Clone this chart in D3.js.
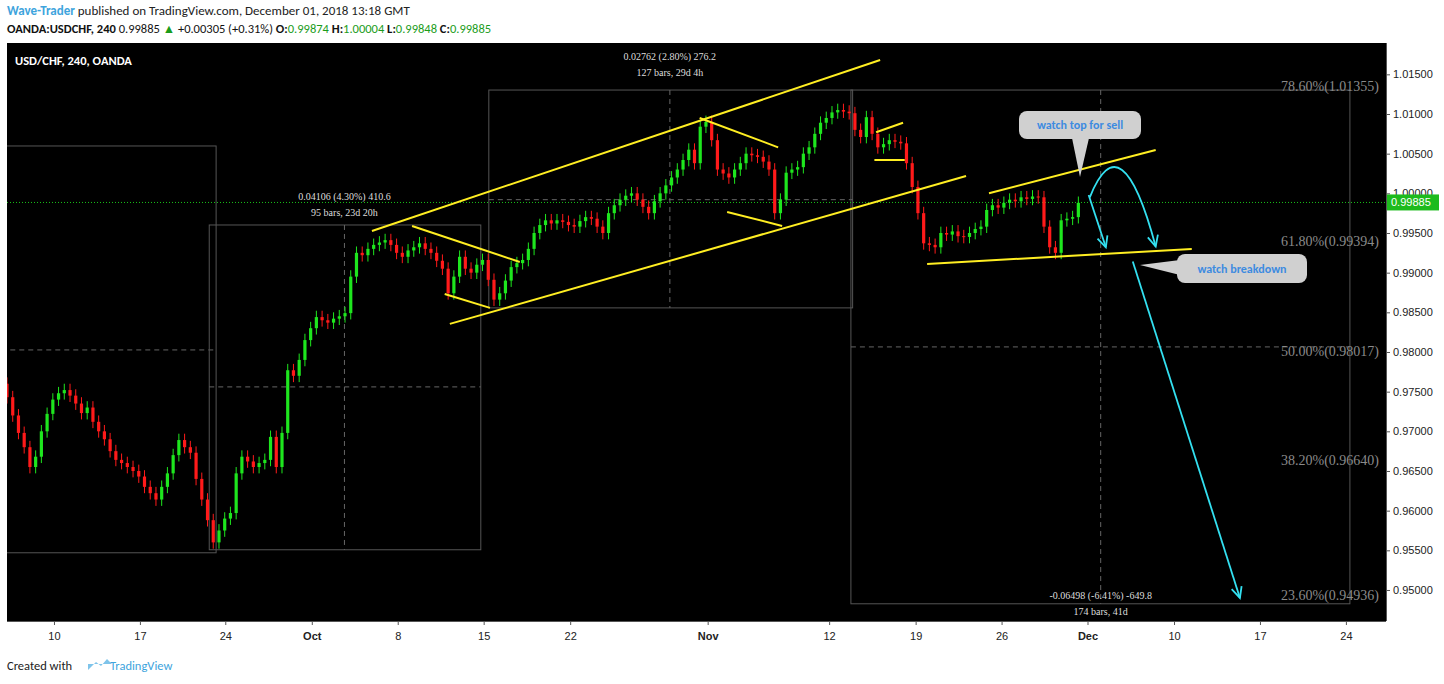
<!DOCTYPE html><html><head><meta charset="utf-8">
<script src="https://cdn.jsdelivr.net/npm/d3@7"></script>
<style>body{margin:0;background:#fff;font-family:"Open Sans",Arial,sans-serif}</style></head><body>
<svg id="c" width="1444" height="684"></svg>
<script>
const closes=[.9743,.9720,.9698,.9680,.9655,.9668,.9700,.9722,.9740,.9748,
.9752,.9745,.9735,.9723,.9730,.9712,.9700,.9690,.9675,.9664,
.9660,.9655,.9650,.9643,.9630,.9622,.9614,.9630,.9647,.9670,
.9689,.9680,.9673,.9640,.9614,.9588,.9560,.9575,.9590,.9597,
.9647,.9668,.9662,.9655,.9660,.9664,.9693,.9655,.9698,.9777,
.9770,.9790,.9815,.9830,.9844,.9840,.9837,.9842,.9845,.9849,
.9895,.9925,.9922,.9930,.9935,.9938,.9941,.9935,.9925,.9920,
.9928,.9932,.9937,.9930,.9925,.9915,.9905,.9874,.9895,.9920,
.9905,.9900,.9910,.9916,.9891,.9866,.9874,.9890,.9907,.9912,
.9916,.9930,.9950,.9960,.9966,.9962,.9966,.9964,.9960,.9958,
.9965,.9970,.9968,.9958,.9950,.9975,.9985,.9992,.9997,1.0000,
.9992,.9983,.9975,.9990,1.0000,1.0010,1.0020,1.0030,1.0042,1.0055,
1.0038,1.0084,1.0090,1.0067,1.0030,1.0025,1.0020,1.0030,1.0038,1.0050,
1.0048,1.0046,1.0040,1.0030,.9975,.9992,1.0026,1.0030,1.0033,1.0050,
1.0058,1.0075,1.0089,1.0095,1.0102,1.0105,1.0103,1.0101,1.0080,1.0071,
1.0096,1.0075,1.0058,1.0062,1.0067,1.0065,1.0063,1.0038,1.0008,.9975,
.9937,.9935,.9932,.9950,.9948,.9952,.9946,.9945,.9950,.9955,
.9958,.9979,.9985,.9982,.9988,.9992,.9990,.9995,.9993,.9996,
.9995,.9958,.9932,.9925,.9966,.9968,.9970,.9988];
const firstOpen=.9760, wick=.0008;
const dateTicks=[8.2,23.2,38.1,53.2,68.2,83.2,98.3,122.3,143.5,158.6,173.6,188.6,203.7,218.7,233.7];
const dateLabels=["10","17","24","Oct","8","15","22","Nov","12","19","26","Dec","10","17","24"];
const priceTicks=[1.015,1.01,1.005,1.0,.995,.99,.985,.98,.975,.97,.965,.96,.955,.95];
const trendLines=[[63.7,.99526,152.4,1.0168],[77.3,.98354,167.4,1.00219],[70.7,.99589,89.5,.99135],[76.4,.98731,84.3,.98556],
[120.9,1.0095,134.6,1.0058],[125.7,.99765,135.3,.99589],[151.7,1.0077,156.4,1.0089],[151.4,1.0042,156.7,1.0042],
[171.4,1.0,200.5,1.00546],[160.6,.9911,206.8,.99299]];
const boxes=[[-1,1.00597,36.5,.95469,.98026,null],[35.3,.99601,82.7,.95507,.97560,58.9],[84.1,1.01302,147.6,.98556,.99920,115.7],[147.3,1.01302,234.4,.94826,.98064,190.9]];
const measureText=[["0.04106 (4.30%) 410.6","95 bars, 23d 20h",58.9,.99910],["0.02762 (2.80%) 276.2","127 bars, 29d 4h",115.7,1.0168],["-0.06498 (-6.41%) -649.8","174 bars, 41d",190.9,.94886]];
const fibLabels=["78.60%(1.01355)","61.80%(0.99394)","50.00%(0.98017)","38.20%(0.96640)","23.60%(0.94936)"];
const fibPrices=[1.01355,.99394,.98017,.96640,.94936];
const lastPrice=.99885;

const svg=d3.select("#c");
const L=7,R=1386,T=43,B=621;
const x=d3.scaleLinear().domain([0,240.7]).range([L,R]);
const y=d3.scaleLinear().domain([.94609,1.01895]).range([B,T]);
const h=svg.append("g").attr("font-family","Calibri,'Liberation Sans',Arial,sans-serif");
let t=h.append("text").attr("x",7).attr("y",15).attr("font-size",13);
t.append("tspan").attr("fill","#3ea4dd").attr("font-weight","bold").text("Wave-Trader");
t.append("tspan").attr("fill","#222").text(" published on TradingView.com, December 01, 2018 13:18 GMT");
t=h.append("text").attr("x",7).attr("y",33).attr("font-size",12.5).attr("fill","#111");
t.append("tspan").attr("font-weight","bold").text("OANDA:USDCHF, 240 ");
t.append("tspan").text("0.99885 ");
t.append("tspan").attr("fill","#1a9c1a").text("▲");
t.append("tspan").text(" +0.00305 (+0.31%) ");
[["O:","0.99874"],["H:","1.00004"],["L:","0.99848"],["C:","0.99885"]].forEach(([a,b])=>{t.append("tspan").attr("font-weight","bold").text(a);t.append("tspan").attr("fill","#1a9c1a").text(b+" ");});
svg.append("rect").attr("x",L).attr("y",T).attr("width",R-L).attr("height",B-T).attr("fill","#000");
svg.append("clipPath").attr("id","cp").append("rect").attr("x",L).attr("y",T).attr("width",R-L).attr("height",B-T);
const g=svg.append("g").attr("clip-path","url(#cp)");
g.append("text").attr("x",15).attr("y",65).attr("fill","#fff").attr("font-size",12.5).attr("font-weight","bold").attr("font-family","Calibri,'Liberation Sans',Arial").text("USD/CHF, 240, OANDA");
boxes.forEach(b=>{
 g.append("rect").attr("x",x(b[0])).attr("y",y(b[1])).attr("width",x(b[2])-x(b[0])).attr("height",y(b[3])-y(b[1])).attr("fill","none").attr("stroke","#555");
 g.append("line").attr("x1",x(b[0])).attr("x2",x(b[2])).attr("y1",y(b[4])).attr("y2",y(b[4])).attr("stroke","#666").attr("stroke-dasharray","5,4");
 if(b[5]!=null) g.append("line").attr("x1",x(b[5])).attr("x2",x(b[5])).attr("y1",y(b[1])).attr("y2",y(b[3])).attr("stroke","#666").attr("stroke-dasharray","5,4");
});
fibLabels.forEach((s,i)=>g.append("text").attr("x",1379).attr("y",y(fibPrices[i])+5).attr("text-anchor","end").attr("fill","#8a8a8a").attr("font-size",14).attr("font-family","'Liberation Serif',serif").text(s));
measureText.forEach(m=>{
 g.append("text").attr("x",x(m[2])).attr("y",y(m[3])).attr("text-anchor","middle").attr("fill","#ddd").attr("font-size",10).attr("font-family","'Liberation Serif',serif").text(m[0]);
 g.append("text").attr("x",x(m[2])).attr("y",y(m[3])+16).attr("text-anchor","middle").attr("fill","#ddd").attr("font-size",10).attr("font-family","'Liberation Serif',serif").text(m[1]);
});
g.append("line").attr("x1",L).attr("x2",R).attr("y1",y(lastPrice)).attr("y2",y(lastPrice)).attr("stroke","#19c219").attr("stroke-dasharray","1,2");
const cw=3.2;
closes.forEach((c,i)=>{
 const o=i?closes[i-1]:firstOpen, up=c>=o, col=up?"#1ee61e":"#ff1a1a";
 const hi=Math.max(o,c)+wick, lo=Math.min(o,c)-wick, xc=x(i);
 g.append("line").attr("x1",xc).attr("x2",xc).attr("y1",y(hi)).attr("y2",y(lo)).attr("stroke",col);
 g.append("rect").attr("x",xc-cw/2).attr("width",cw).attr("y",y(Math.max(o,c))).attr("height",Math.max(1,Math.abs(y(o)-y(c)))).attr("fill",col);
});
trendLines.forEach(l=>g.append("line").attr("x1",x(l[0])).attr("y1",y(l[1])).attr("x2",x(l[2])).attr("y2",y(l[3])).attr("stroke","#ffee22").attr("stroke-width",2));
const cy="#33e0f0";
function arrowHead(x1,y1,x2,y2){const a=Math.atan2(y2-y1,x2-x1),s=12;
 g.append("path").attr("d",`M${x2-s*Math.cos(a-0.45)},${y2-s*Math.sin(a-0.45)}L${x2},${y2}L${x2-s*Math.cos(a+0.45)},${y2-s*Math.sin(a+0.45)}`).attr("fill","none").attr("stroke",cy).attr("stroke-width",1.8);}
g.append("path").attr("d",`M${x(189)},${y(.9995)} Q${x(194.5)},${y(1.0095)} ${x(200.5)},${y(.9933)}`).attr("fill","none").attr("stroke",cy).attr("stroke-width",1.8);
arrowHead(x(199.3),y(.9965),x(200.5),y(.9933));
g.append("line").attr("x1",x(188.8)).attr("y1",y(.9998)).attr("x2",x(191.8)).attr("y2",y(.9932)).attr("stroke",cy).attr("stroke-width",1.8);
arrowHead(x(188.8),y(.9998),x(191.8),y(.9932));
g.append("line").attr("x1",x(196.5)).attr("y1",y(.9914)).attr("x2",x(215.2)).attr("y2",y(.9490)).attr("stroke",cy).attr("stroke-width",1.8);
arrowHead(x(196.5),y(.9914),x(215.2),y(.9490));
function callout(x0,y0,w,hh,txt,path){g.append("path").attr("d",path).attr("fill","#d0d0d0");
 g.append("rect").attr("x",x0).attr("y",y0).attr("width",w).attr("height",hh).attr("rx",8).attr("fill","#d0d0d0");
 g.append("text").attr("x",x0+w/2).attr("y",y0+hh/2+4).attr("text-anchor","middle").attr("fill","#3d8be0").attr("font-size",12).attr("font-weight","bold").attr("font-family","Calibri,'Liberation Sans',Arial").text(txt);}
callout(1019,111,122,28,"watch top for sell","M1072,138L1080,177L1089,138Z");
callout(1177,254,130,29,"watch breakdown","M1180,260L1140,265L1180,275Z");
svg.append("rect").attr("x",R).attr("y",T).attr("width",1444-R).attr("height",B-T).attr("fill","#fff");
svg.append("line").attr("x1",R+.5).attr("x2",R+.5).attr("y1",T).attr("y2",B).attr("stroke","#555");
const ay=svg.append("g").attr("transform",`translate(${R},0)`).call(d3.axisRight(y).tickValues(priceTicks).tickFormat(d3.format(".5f")).tickSize(4));
ay.select(".domain").remove();ay.selectAll("text").attr("font-size",11).attr("fill","#222").attr("font-family","'Liberation Sans',Arial");
ay.selectAll("line").attr("stroke","#555");
svg.append("rect").attr("x",R+1).attr("y",y(lastPrice)-8).attr("width",52).attr("height",16).attr("fill","#1dbb1d");
svg.append("text").attr("x",R+5).attr("y",y(lastPrice)+4).attr("fill","#fff").attr("font-size",11).attr("font-family","'Liberation Sans',Arial").text("0.99885");
svg.append("line").attr("x1",L).attr("x2",R).attr("y1",B+.5).attr("y2",B+.5).attr("stroke","#555");
const ax=svg.append("g").attr("transform",`translate(0,${B})`).call(d3.axisBottom(x).tickValues(dateTicks).tickFormat((d,i)=>dateLabels[i]).tickSize(4));
ax.select(".domain").remove();ax.selectAll("text").attr("font-size",11).attr("fill","#222").attr("font-family","'Liberation Sans',Arial").attr("dy","1.1em")
 .attr("font-weight",(d,i)=>["Oct","Nov","Dec"].includes(dateLabels[i])?"bold":null);
ax.selectAll("line").attr("stroke","#555");
const f=svg.append("text").attr("x",7).attr("y",670).attr("font-size",12.5).attr("font-family","Calibri,'Liberation Sans',Arial");
f.append("tspan").attr("fill","#222").text("Created with ");
f.append("tspan").attr("dx",35).attr("fill","#3ea4dd").text("TradingView");
svg.append("path").attr("d","M88,670 l8,-8 l5,4 l6,-7 l5,5 l-24,0Z").attr("fill","#7fc4ea");
</script></body></html>
